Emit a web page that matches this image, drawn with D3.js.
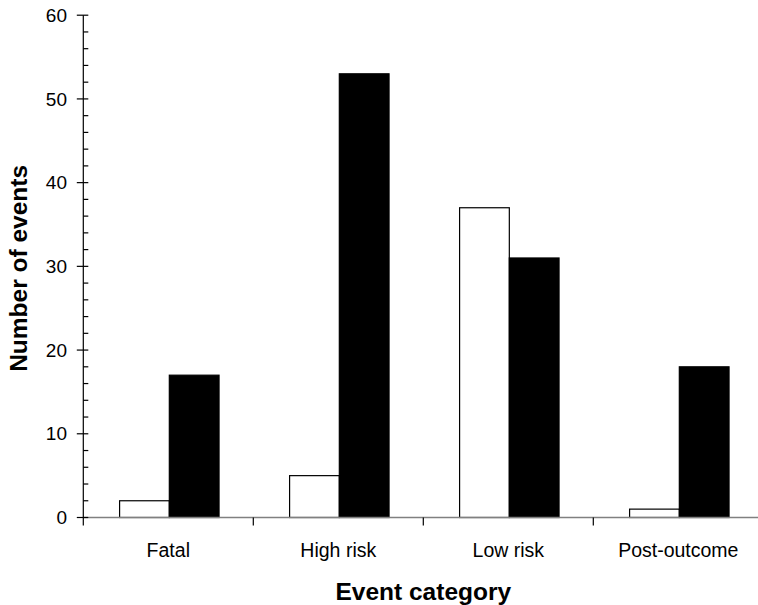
<!DOCTYPE html>
<html>
<head>
<meta charset="utf-8">
<script src="https://cdn.jsdelivr.net/npm/d3@7"></script>
<style>
  html, body { margin: 0; padding: 0; background: #fff; }
  svg { display: block; }
  text { font-family: "Liberation Sans", Arial, sans-serif; fill: #000; }
</style>
</head>
<body>
<svg id="chart" width="758" height="605"></svg>
<script>
const categories = ["Fatal", "High risk", "Low risk", "Post-outcome"];
const seriesWhite = [2, 5, 37, 1];
const seriesBlack = [17, 53, 31, 18];
const yTicks = [0, 10, 20, 30, 40, 50, 60];
const yMinorTicks = [2, 4, 6, 8, 12, 14, 16, 18, 22, 24, 26, 28, 32, 34, 36, 38, 42, 44, 46, 48, 52, 54, 56, 58];

const svg = d3.select("#chart");
const x0 = 83.3, x1 = 763.3, yTop = 15.2, yBot = 517.5;

const x = d3.scaleBand().domain(categories).range([x0, x1]).paddingInner(0).paddingOuter(0);
const y = d3.scaleLinear().domain([0, 60]).range([yBot, yTop]);

// bar geometry within a category: gap-width style layout
const barW = x.bandwidth() * 0.2925;
const offset = x.bandwidth() * 0.2135;

const series = [
  { values: seriesWhite, fill: "#fff", stroke: "#000", idx: 0 },
  { values: seriesBlack, fill: "#000", stroke: "#000", idx: 1 }
];

// bars
series.forEach(s => {
  svg.append("g").selectAll("rect").data(categories).join("rect")
    .attr("x", (d) => x(d) + offset + s.idx * barW)
    .attr("y", (d, i) => y(s.values[i]))
    .attr("width", barW)
    .attr("height", (d, i) => yBot - y(s.values[i]))
    .attr("fill", s.fill)
    .attr("stroke", s.stroke)
    .attr("stroke-width", 1.2);
});

// x axis baseline (gray)
const xAxis = svg.append("g");
xAxis.append("line")
  .attr("x1", x0).attr("x2", x1).attr("y1", yBot).attr("y2", yBot)
  .attr("stroke", "#808080").attr("stroke-width", 1.5);
// category boundary ticks
xAxis.selectAll("line.tk").data(categories.slice(1)).join("line")
  .attr("class", "tk")
  .attr("x1", d => x(d)).attr("x2", d => x(d))
  .attr("y1", yBot).attr("y2", yBot + 8)
  .attr("stroke", "#000").attr("stroke-width", 1.2);
// category labels
xAxis.selectAll("text").data(categories).join("text")
  .attr("x", d => x(d) + x.bandwidth() / 2)
  .attr("y", 557)
  .attr("text-anchor", "middle")
  .attr("font-size", "19.5px")
  .text(d => d);

// y axis
const yAxis = svg.append("g");
yAxis.append("line")
  .attr("x1", x0).attr("x2", x0).attr("y1", yTop).attr("y2", yBot + 8)
  .attr("stroke", "#000").attr("stroke-width", 1.2);
yAxis.selectAll("line.maj").data(yTicks).join("line")
  .attr("class", "maj")
  .attr("x1", x0 - 6.5).attr("x2", x0 + 5)
  .attr("y1", d => y(d)).attr("y2", d => y(d))
  .attr("stroke", "#000").attr("stroke-width", 1.2);
yAxis.selectAll("line.min").data(yMinorTicks).join("line")
  .attr("class", "min")
  .attr("x1", x0).attr("x2", x0 + 5)
  .attr("y1", d => y(d)).attr("y2", d => y(d))
  .attr("stroke", "#000").attr("stroke-width", 1.2);
yAxis.selectAll("text").data(yTicks).join("text")
  .attr("x", 67)
  .attr("y", d => y(d))
  .attr("dy", "0.35em")
  .attr("text-anchor", "end")
  .attr("font-size", "19px")
  .text(d => d);

// axis titles
svg.append("text")
  .attr("x", (x0 + x1) / 2)
  .attr("y", 600)
  .attr("text-anchor", "middle")
  .attr("font-size", "24.5px")
  .attr("font-weight", "bold")
  .text("Event category");

svg.append("text")
  .attr("transform", `translate(27, ${(yTop + yBot) / 2 + 2}) rotate(-90)`)
  .attr("text-anchor", "middle")
  .attr("font-size", "24.5px")
  .attr("font-weight", "bold")
  .text("Number of events");
</script>
</body>
</html>
